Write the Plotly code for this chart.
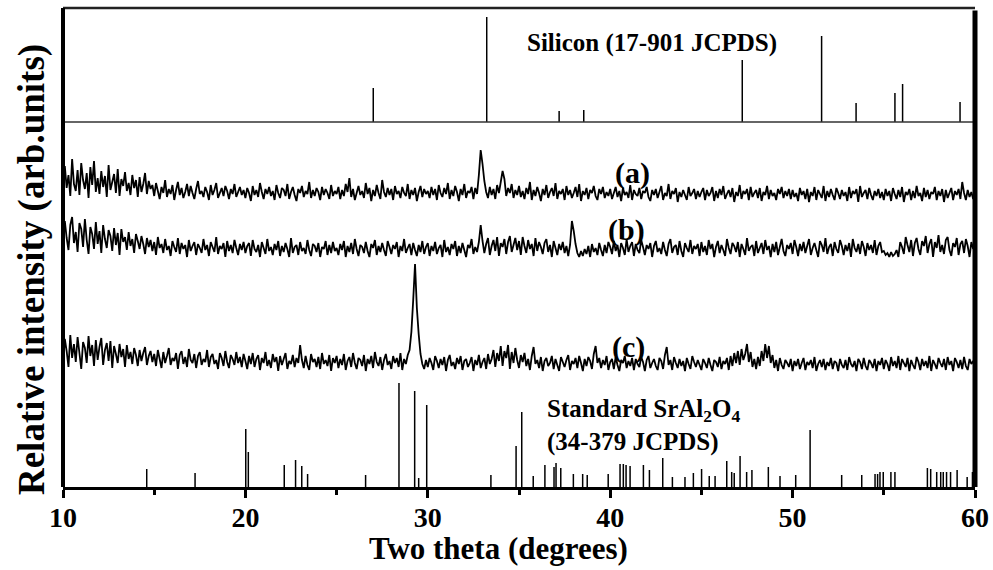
import plotly.graph_objects as go

# ---------------- data ----------------
# measurement grid: 10.0 .. 60.0 deg, step 0.1
two_theta = [round(10 + 0.1 * i, 1) for i in range(501)]

# intensities (arb. units), each above its own baseline
trace_a = [
    9,36,14,27,6,43,18,11,32,7,39,22,13,29,4,35,17,41,10,24,8,31,15,26,5,37,12,20,28,9,33,6,23,16,30,11,19,7,27,14,22,5,25,10,18,29,8,21,13,17,
    6,19,11,3,15,9,22,5,13,8,17,2,12,20,7,14,4,10,18,6,16,9,3,13,21,8,11,5,15,10,2,17,7,12,19,4,9,14,6,16,11,3,13,8,18,5,10,15,7,12,
    4,14,9,1,16,7,12,5,19,10,3,13,8,15,6,11,2,17,9,4,14,12,6,18,3,10,15,7,1,13,9,16,5,11,8,20,4,12,6,14,10,2,15,7,13,9,3,17,6,11,
    8,15,3,12,6,18,10,24,5,13,2,9,16,7,11,4,19,8,14,1,12,6,17,9,3,22,10,5,14,7,13,2,16,8,11,4,15,9,6,18,3,12,7,14,1,10,16,5,13,8,
    11,4,15,7,13,2,17,9,5,14,8,19,3,12,6,16,10,1,13,7,18,4,11,9,15,3,14,8,27,52,38,21,10,4,15,7,13,3,17,9,20,31,23,6,14,9,18,4,12,7,
    16,5,11,3,14,8,20,2,12,6,15,9,1,13,7,17,4,10,14,6,19,3,11,8,13,2,16,7,12,4,9,15,5,18,1,11,7,14,3,12,9,16,6,2,13,8,15,4,10,6,
    13,3,9,15,5,11,1,14,7,10,4,17,2,12,8,6,14,3,11,9,15,5,1,12,7,13,4,10,16,2,9,6,18,3,11,8,14,0,10,5,12,7,2,15,6,9,13,3,11,5,
    10,14,2,12,6,9,15,1,11,4,13,7,16,3,8,12,5,14,0,10,6,17,3,11,8,13,2,15,5,9,12,4,14,1,10,7,16,3,12,6,9,2,13,8,15,4,11,6,13,3,
    12,5,9,1,14,7,11,3,13,0,10,6,15,2,12,8,4,16,1,11,5,13,7,2,14,9,3,12,6,10,1,15,4,11,8,13,0,16,5,9,12,3,14,7,2,11,6,13,4,10,
    2,13,6,11,1,14,8,3,12,5,15,0,10,7,13,2,11,4,16,6,9,1,14,5,12,3,10,8,15,2,11,6,13,0,12,4,9,14,2,11,7,13,3,20,9,2,12,5,10,3,
    8,
]

trace_b = [
    12,37,20,8,33,41,15,26,6,35,29,11,39,18,4,31,24,9,36,14,27,5,33,19,10,28,22,7,30,13,25,3,29,16,21,8,26,12,19,5,24,17,9,22,14,4,20,11,18,7,
    16,3,21,10,14,5,19,8,12,2,17,11,6,20,4,15,9,13,1,18,7,12,16,3,14,10,5,19,8,13,2,16,11,6,21,4,12,9,15,1,17,7,13,5,18,10,3,14,8,16,
    5,12,15,2,18,9,6,13,1,16,10,4,19,7,11,3,14,8,17,2,12,6,15,9,1,20,5,11,13,3,16,7,10,4,18,8,2,14,12,6,15,1,11,9,17,3,13,5,16,7,
    10,3,14,8,17,1,12,6,15,4,19,9,2,13,11,5,16,7,1,14,10,18,3,12,6,15,8,2,17,11,4,13,9,16,1,12,7,19,5,10,14,3,15,8,2,13,6,17,4,11,
    15,2,12,7,16,4,10,13,1,18,6,11,3,14,9,17,2,12,5,15,8,1,13,10,19,4,11,6,16,33,17,5,14,20,3,12,18,7,21,2,15,11,19,4,16,22,6,13,20,8,
    17,3,21,12,5,18,9,14,2,20,7,16,11,4,15,19,6,13,1,17,10,3,14,8,16,5,12,2,13,37,27,14,5,1,7,2,9,4,12,1,14,6,10,3,15,8,2,13,5,16,
    11,4,17,7,13,1,15,10,3,19,6,12,16,2,14,8,5,18,11,3,13,9,15,1,12,17,6,10,4,16,8,2,14,19,5,11,13,3,17,7,1,15,10,6,18,4,12,9,14,2,
    16,6,12,3,18,9,14,1,11,17,5,13,8,2,19,10,4,15,12,6,16,1,14,9,3,20,7,11,13,2,17,5,10,15,4,18,8,12,1,14,6,16,3,11,19,7,2,13,9,15,
    4,18,11,2,14,7,16,5,12,19,3,10,15,8,1,17,13,6,20,4,11,14,2,16,9,5,18,12,3,13,7,15,1,19,10,6,14,4,17,11,2,15,8,13,5,18,3,12,16,6,
    7,3,5,1,6,2,4,8,1,16,11,4,21,13,6,18,2,15,20,9,3,17,12,22,5,14,19,1,16,10,23,6,13,4,18,21,8,2,15,11,20,3,14,17,5,19,12,1,16,9,
    13,
]

trace_c = [
    8,33,21,5,37,14,28,10,35,19,3,30,24,9,36,16,27,6,32,12,25,34,7,22,29,11,31,4,26,18,9,28,15,23,5,27,13,20,8,24,17,6,22,11,19,25,7,16,21,10,
    18,6,22,13,4,20,9,16,24,7,14,11,19,3,17,21,8,15,5,23,12,9,18,4,16,20,7,13,10,22,5,15,18,8,12,3,19,14,6,21,10,4,17,13,7,20,9,15,5,18,
    11,3,16,8,19,5,13,17,2,14,9,20,6,12,4,18,10,15,1,16,7,13,19,3,11,8,17,5,14,9,27,12,4,16,7,2,18,10,13,5,15,3,19,8,12,6,17,1,14,9,
    16,4,13,7,18,2,11,15,5,19,9,3,14,12,6,17,1,13,8,16,4,20,10,6,15,2,12,18,7,11,3,16,9,14,5,19,2,13,8,17,22,40,72,108,64,38,18,8,3,12,
    5,14,9,2,16,11,4,13,7,15,1,12,17,6,10,3,14,8,16,2,11,13,5,9,15,1,12,7,17,4,10,14,3,18,8,13,22,5,19,11,26,6,21,14,27,3,20,9,24,12,
    4,17,10,19,6,13,2,16,25,8,12,4,15,1,11,14,6,9,16,3,13,7,1,15,10,5,12,17,2,11,8,14,4,16,9,1,13,6,15,11,3,18,26,9,14,4,12,7,16,2,
    10,13,3,15,7,1,12,9,16,4,11,6,14,2,13,8,5,15,10,1,12,16,4,9,13,6,2,14,11,3,17,25,7,12,2,15,9,4,13,6,11,1,14,8,3,16,10,5,12,7,
    2,13,9,4,14,7,1,12,10,5,15,3,11,8,14,2,16,6,19,9,21,7,23,12,18,28,10,20,5,13,3,15,6,21,11,28,14,26,9,17,4,12,1,14,7,3,12,9,5,13,
    1,11,6,13,3,9,14,2,10,7,12,4,15,1,8,12,5,13,2,10,6,14,3,11,9,1,13,7,4,12,2,15,8,5,11,1,13,10,3,14,6,2,12,9,4,13,1,11,7,14,
    3,12,8,1,15,6,11,4,16,2,13,9,5,14,1,12,7,3,15,10,2,13,6,11,4,16,1,12,8,3,14,9,5,13,2,15,7,11,1,14,10,4,12,3,15,6,2,13,8,11,
    4,
]

# reference stick patterns
si_pos = [27.01, 33.23, 37.20, 38.55, 47.24, 51.59, 53.48, 55.61, 56.03, 59.18]
si_int = [34, 105, 11, 12, 62, 86, 19, 29, 38, 20]

sral_pos = [14.59, 17.24, 20.02, 20.16, 22.13, 22.75, 23.09, 23.41, 26.59, 28.42,
            29.28, 29.50, 29.94, 33.46, 34.84, 35.15, 35.78, 36.42, 36.92, 37.03,
            37.29, 37.98, 38.49, 38.74, 39.89, 40.54, 40.72, 40.87, 41.09, 41.82,
            42.15, 42.88, 43.41, 44.10, 44.56, 45.01, 45.43, 45.75, 46.39, 46.66,
            46.80, 47.12, 47.48, 47.77, 48.67, 49.31, 50.17, 50.96, 52.69, 53.79,
            54.52, 54.66, 54.79, 54.97, 55.39, 55.61, 57.39, 57.57, 57.90, 58.12,
            58.26, 58.44, 58.66, 59.02, 59.57, 59.86]
sral_int = [18, 14, 58, 35, 22, 27, 21, 13, 12, 104,
            96, 9, 82, 12, 41, 75, 11, 22, 20, 24,
            19, 13, 13, 12, 13, 23, 23, 22, 21, 22,
            17, 29, 10, 10, 14, 18, 11, 11, 26, 15,
            14, 31, 15, 17, 20, 11, 12, 57, 12, 12,
            13, 13, 15, 15, 15, 15, 19, 18, 15, 15,
            15, 15, 15, 17, 10, 15]

x_ticks = [10, 20, 30, 40, 50, 60]

# ---------------- layout constants ----------------
OFF_A, OFF_B, OFF_C = 285, 229, 115
SI_BASE = 365
FONT = "Liberation Serif"


def sticks(pos, inten, base):
    xs, ys = [], []
    for p, h in zip(pos, inten):
        xs += [p, p, None]
        ys += [base, base + h, None]
    return xs, ys


fig = go.Figure()

for vals, off in [(trace_a, OFF_A), (trace_b, OFF_B), (trace_c, OFF_C)]:
    fig.add_trace(go.Scatter(x=two_theta, y=[v + off for v in vals], mode="lines",
                             line=dict(color="black", width=1.8, simplify=False),
                             showlegend=False, hoverinfo="skip"))

sx, sy = sticks(si_pos, si_int, SI_BASE)
fig.add_trace(go.Scatter(x=sx, y=sy, mode="lines", line=dict(color="black", width=1.5),
                         showlegend=False, hoverinfo="skip"))
sx, sy = sticks(sral_pos, sral_int, 0)
fig.add_trace(go.Scatter(x=sx, y=sy, mode="lines", line=dict(color="black", width=1.5),
                         showlegend=False, hoverinfo="skip"))

shapes = [
    dict(type="line", xref="paper", yref="y", x0=0, x1=1, y0=SI_BASE, y1=SI_BASE,
         line=dict(color="#333", width=1.5)),
    dict(type="line", xref="paper", yref="paper", x0=0, x1=1, y0=1, y1=1,
         line=dict(color="#222", width=2.5)),
    dict(type="line", xref="paper", yref="paper", x0=0, x1=0, y0=0, y1=1,
         line=dict(color="black", width=4)),
    dict(type="line", xref="paper", yref="paper", x0=1, x1=1, y0=0, y1=0.995,
         line=dict(color="black", width=5)),
]

ann_font = dict(family=FONT, color="black", size=25, weight="bold")
lab_font = dict(family=FONT, color="black", size=30, weight="bold")
annotations = [
    dict(x=35.33, y=444, text="Silicon (17-901 JCPDS)", xanchor="left", yanchor="middle",
         showarrow=False, font=ann_font),
    dict(x=36.43, y=77, text="Standard SrAl<sub>2</sub>O<sub>4</sub>", xanchor="left",
         yanchor="middle", showarrow=False, font=ann_font),
    dict(x=36.43, y=45, text="(34-379 JCPDS)", xanchor="left", yanchor="middle",
         showarrow=False, font=ann_font),
    dict(x=41.2, y=314, text="(a)", showarrow=False, font=lab_font),
    dict(x=40.9, y=257, text="(b)", showarrow=False, font=lab_font),
    dict(x=41.0, y=140, text="(c)", showarrow=False, font=lab_font),
    dict(x=-0.034, y=0.455, xref="paper", yref="paper", text="Relative intensity (arb.units)",
         textangle=-90, showarrow=False, xanchor="center", yanchor="middle",
         font=dict(family=FONT, color="black", size=37, weight="bold")),
    dict(x=0.477, y=-0.129, xref="paper", yref="paper", text="Two theta (degrees)",
         showarrow=False, xanchor="center", yanchor="middle",
         font=dict(family=FONT, color="black", size=31, weight="bold")),
]

fig.update_layout(
    width=993, height=570,
    margin=dict(l=63, r=18, t=8, b=83, pad=0),
    paper_bgcolor="white", plot_bgcolor="white",
    shapes=shapes, annotations=annotations,
    xaxis=dict(range=[10, 60], tickvals=x_ticks, ticks="outside", ticklen=8, tickwidth=3,
               tickcolor="black", showline=True, linecolor="black", linewidth=3,
               showgrid=False, zeroline=False, automargin=False, ticklabelstandoff=-5,
               tickfont=dict(family=FONT, size=28, color="black", weight="bold"),
               minor=dict(dtick=5, tick0=0, ticks="outside", ticklen=5, tickwidth=3,
                          tickcolor="black", showgrid=False)),
    yaxis=dict(range=[0, 479], showticklabels=False, ticks="", showgrid=False,
               zeroline=False, showline=False, automargin=False),
)

fig.write_html("out.html")
